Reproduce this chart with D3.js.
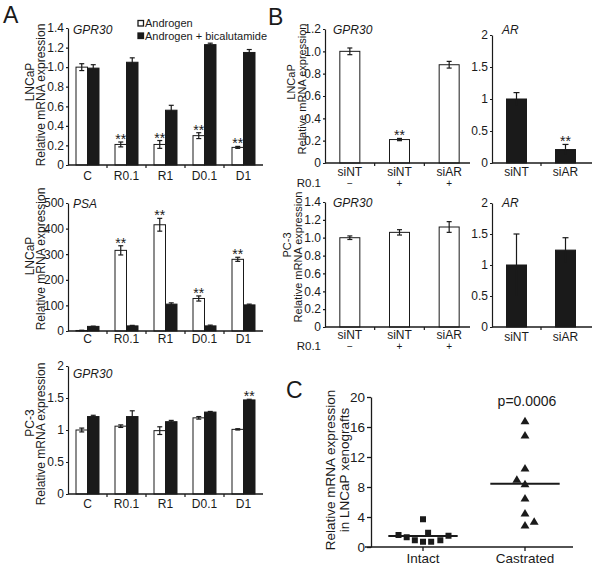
<!DOCTYPE html>
<html><head><meta charset="utf-8">
<script src="https://cdn.jsdelivr.net/npm/d3@7"></script>
<style>body{margin:0;background:#fff}svg{display:block;font-family:"Liberation Sans",Arial,sans-serif;}</style>
</head><body><svg id="c" width="600" height="571"></svg>
<script>
// ---------- data ----------
const catsA = ["C","R0.1","R1","D0.1","D1"];
const seriesNames = ["Androgen","Androgen + bicalutamide"];
const lncapGprAndrogen = [1.00,0.21,0.21,0.30,0.18];
const lncapGprAndrogenErr = [0.035,0.025,0.04,0.03,0.01];
const lncapGprBical = [0.99,1.05,0.56,1.23,1.15];
const lncapGprBicalErr = [0.035,0.045,0.05,0.015,0.03];
const lncapGprStars = [0,1,1,1,1];
const psaAndrogen = [2,315,415,127,280];
const psaAndrogenErr = [1,18,25,10,8];
const psaBical = [18,20,105,20,102];
const psaBicalErr = [1,2,5,3,3];
const psaStars = [0,1,1,1,1];
const pc3GprAndrogen = [1.00,1.06,0.99,1.19,1.01];
const pc3GprAndrogenErr = [0.03,0.02,0.06,0.02,0.01];
const pc3GprBical = [1.21,1.21,1.13,1.28,1.47];
const pc3GprBicalErr = [0.02,0.09,0.02,0.01,0.01];
const pc3GprBicalStars = [0,0,0,0,1];
const ticksA1 = [0,0.2,0.4,0.6,0.8,1.0,1.2,1.4];
const ticksA2 = [0,100,200,300,400,500];
const ticksA3 = [0,0.5,1,1.5,2];

const catsB = ["siNT","siNT","siAR"];
const r01Signs = ["\u2212","+","+"];
const catsAR = ["siNT","siAR"];
const lncapGprSi = [1.00,0.21,0.88];
const lncapGprSiErr = [0.03,0.01,0.03];
const lncapGprSiStars = [0,1,0];
const lncapARSi = [1.00,0.21];
const lncapARSiErr = [0.10,0.08];
const lncapARSiStars = [0,1];
const pc3GprSi = [1.00,1.06,1.12];
const pc3GprSiErr = [0.02,0.03,0.06];
const pc3ARSi = [1.00,1.24];
const pc3ARSiErr = [0.50,0.20];
const ticksB1 = [0,0.2,0.4,0.6,0.8,1.0,1.2];
const ticksB3 = [0,0.2,0.4,0.6,0.8,1.0,1.2,1.4];
const ticksAR = [0,0.5,1,1.5,2];

const groupsC = ["Intact","Castrated"];
const intactVals = [3.7,1.6,1.3,0.9,0.7,1.9,0.7,0.9,1.5];
const intactJitter = [0,-0.24,-0.16,-0.08,0,0.05,0.08,0.17,0.25];
const castratedVals = [16.7,14.8,10.4,8.9,8.3,6.4,4.4,2.8,3.3];
const castratedJitter = [0,0,0,-0.08,0,0,0,0,0.09];
const ticksC = [0,4,8,12,16,20];
const pText = "p=0.0006";

// ---------- drawing ----------
const svg = d3.select("#c");
const INK = "#1a1a1a";
const fmt1 = d => d === 0 ? "0" : d3.format(".1f")(d);
const fmtG = d => String(d);

function barPanel(o){
  const g = svg.append("g");
  const n = o.cats.length;
  const x = d3.scaleBand().domain(d3.range(n)).range([o.xl, o.xr]);
  const y = d3.scaleLinear().domain([0, o.max]).range([o.y0, o.yt]);
  o.series.forEach((s, si) => {
    const off = o.series.length === 2 ? (si === 0 ? -o.bw : 0) : -o.bw/2;
    const cx = i => x(i) + x.bandwidth()/2 + off;
    const rows = s.vals.map((v,i) => ({v, i, e: s.errs[i], star: s.stars ? s.stars[i] : 0}));
    g.selectAll(null).data(rows).join("rect")
      .attr("x", d => cx(d.i)).attr("width", o.bw)
      .attr("y", d => y(d.v)).attr("height", d => y(0) - y(d.v))
      .attr("fill", s.fill).attr("stroke", INK).attr("stroke-width", 1);
    const eb = g.selectAll(null).data(rows).join("g")
      .attr("transform", d => `translate(${cx(d.i) + o.bw/2},0)`);
    eb.append("line").attr("x1",0).attr("x2",0)
      .attr("y1",d=>y(d.v - d.e)).attr("y2",d=>y(d.v + d.e))
      .attr("stroke", INK).attr("stroke-width",1.2);
    eb.append("line").attr("x1",-o.cap).attr("x2",o.cap)
      .attr("y1",d=>y(d.v + d.e)).attr("y2",d=>y(d.v + d.e))
      .attr("stroke", INK).attr("stroke-width",1.2);
    eb.append("line").attr("x1",-o.cap).attr("x2",o.cap)
      .attr("y1",d=>y(d.v - d.e)).attr("y2",d=>y(d.v - d.e))
      .attr("stroke", s.fill === "#fff" ? INK : "none").attr("stroke-width",1.2);
    g.selectAll(null).data(rows.filter(d => d.star)).join("text")
      .attr("x",d=>cx(d.i) + o.bw/2).attr("y",d=>y(d.v + d.e) + 2)
      .attr("text-anchor","middle").attr("font-size",14).attr("fill",INK)
      .text("**");
  });
  // y axis
  const ya = g.append("g").attr("transform",`translate(${o.xl},0)`)
    .call(d3.axisLeft(y).tickValues(o.ticks).tickFormat(o.fmt).tickSize(2).tickPadding(2).tickSizeOuter(0));
  ya.select(".domain").attr("stroke",INK).attr("stroke-width",1.2);
  ya.selectAll(".tick line").attr("stroke",INK).attr("stroke-width",1.2);
  ya.selectAll("text").attr("font-size",o.fs||12).attr("fill",INK).attr("font-family",'"Liberation Sans",Arial,sans-serif');
  // x axis
  g.append("line").attr("x1",o.xl).attr("x2",o.xend).attr("y1",o.y0).attr("y2",o.y0)
    .attr("stroke",INK).attr("stroke-width",1.5);
  g.selectAll(null).data(d3.range(1,n)).join("line")
    .attr("x1",i=>x(i)).attr("x2",i=>x(i)).attr("y1",o.y0).attr("y2",o.y0+3)
    .attr("stroke",INK).attr("stroke-width",1.2);
  g.selectAll(null).data(o.cats).join("text")
    .attr("x",(d,i)=>x(i)+x.bandwidth()/2).attr("y",o.labY)
    .attr("text-anchor","middle").attr("font-size",o.fs||12).attr("fill",INK).text(d=>d);
  if (o.signs) {
    g.selectAll(null).data(o.signs).join("text")
      .attr("x",(d,i)=>x(i)+x.bandwidth()/2).attr("y",o.labY+11)
      .attr("text-anchor","middle").attr("font-size",10).attr("fill",INK).text(d=>d);
    g.append("text").attr("x",o.xl-4).attr("y",o.labY+11).attr("text-anchor","end")
      .attr("font-size",11.5).attr("fill",INK).text("R0.1");
  }
  // gene label
  g.append("text").attr("x",o.gx).attr("y",o.gy).attr("font-size",12).attr("font-style","italic")
    .attr("fill",INK).text(o.gene);
  // y labels
  if (o.yl) o.yl.forEach(t => {
    g.append("text").attr("transform",`translate(${t[1]},${t[2]}) rotate(-90)`)
      .attr("text-anchor","middle").attr("dominant-baseline","central")
      .attr("font-size",t[3]||12).attr("fill",INK).text(t[0]);
  });
  return {x,y};
}

barPanel({cats:catsA, xl:68, xr:263, xend:263, y0:165, yt:28, max:1.4, ticks:ticksA1, fmt:fmt1,
  bw:11.5, cap:2.5, labY:180, gene:"GPR30", gx:73, gy:34,
  series:[{vals:lncapGprAndrogen, errs:lncapGprAndrogenErr, fill:"#fff", stars:lncapGprStars},
          {vals:lncapGprBical, errs:lncapGprBicalErr, fill:INK}],
  yl:[["LNCaP",30,82],["Relative mRNA expression",41,95]]});
barPanel({cats:catsA, xl:68, xr:263, xend:263, y0:331, yt:203, max:500, ticks:ticksA2, fmt:fmtG,
  bw:11.5, cap:2.5, labY:343, gene:"PSA", gx:73, gy:208,
  series:[{vals:psaAndrogen, errs:psaAndrogenErr, fill:"#fff", stars:psaStars},
          {vals:psaBical, errs:psaBicalErr, fill:INK}],
  yl:[["LNCaP",30,256],["Relative mRNA expression",41,259]]});
barPanel({cats:catsA, xl:68, xr:263, xend:263, y0:494, yt:366, max:2, ticks:ticksA3, fmt:fmtG,
  bw:11.5, cap:2.5, labY:508, gene:"GPR30", gx:73, gy:378,
  series:[{vals:pc3GprAndrogen, errs:pc3GprAndrogenErr, fill:"#fff"},
          {vals:pc3GprBical, errs:pc3GprBicalErr, fill:INK, stars:pc3GprBicalStars}],
  yl:[["PC-3",30,423],["Relative mRNA expression",41,434]]});

barPanel({cats:catsB, signs:r01Signs, xl:325, xr:474, xend:470, y0:163, yt:29, max:1.2, ticks:ticksB1, fmt:fmt1,
  bw:20, cap:2.5, labY:176, gene:"GPR30", gx:333, gy:34,
  series:[{vals:lncapGprSi, errs:lncapGprSiErr, fill:"#fff", stars:lncapGprSiStars}],
  yl:[["LNCaP",291,82,11],["Relative mRNA expression",302,89,11]]});
barPanel({cats:catsAR, xl:492, xr:590, xend:592, y0:163, yt:35, max:2, ticks:ticksAR, fmt:fmtG,
  bw:20, cap:3, labY:176, gene:"AR", gx:502, gy:34,
  series:[{vals:lncapARSi, errs:lncapARSiErr, fill:INK, stars:lncapARSiStars}]});
barPanel({cats:catsB, signs:r01Signs, xl:325, xr:474, xend:470, y0:327, yt:202, max:1.4, ticks:ticksB3, fmt:fmt1,
  bw:20, cap:2.5, labY:339, gene:"GPR30", gx:333, gy:207,
  series:[{vals:pc3GprSi, errs:pc3GprSiErr, fill:"#fff"}],
  yl:[["PC-3",287,245,11],["Relative mRNA expression",298,257,11]]});
barPanel({cats:catsAR, xl:492, xr:590, xend:592, y0:327, yt:203, max:2, ticks:ticksAR, fmt:fmtG,
  bw:20, cap:3, labY:341, gene:"AR", gx:502, gy:207,
  series:[{vals:pc3ARSi, errs:pc3ARSiErr, fill:INK}]});

// legend
const lg = svg.append("g");
seriesNames.forEach((nm,i) => {
  lg.append("rect").attr("x",138).attr("y",20.5+i*12.5).attr("width",5.5).attr("height",5.5)
    .attr("fill", i===0 ? "#fff" : INK).attr("stroke",INK).attr("stroke-width",1.3);
  lg.append("text").attr("x",145).attr("y",27+i*12.5).attr("font-size",11).attr("fill",INK).text(nm);
});

// panel C
(function(){
  const g = svg.append("g");
  const x = d3.scalePoint().domain(groupsC).range([372,576]).padding(0.5);
  const y = d3.scaleLinear().domain([0,20]).range([547,397]);
  const step = x.step();
  const ya = g.append("g").attr("transform","translate(371,0)")
    .call(d3.axisLeft(y).tickValues(ticksC).tickSize(4).tickPadding(2).tickSizeOuter(0));
  ya.select(".domain").attr("stroke",INK).attr("stroke-width",1.3);
  ya.selectAll(".tick line").attr("stroke",INK).attr("stroke-width",1.3);
  ya.selectAll("text").attr("font-size",13.5).attr("fill",INK).attr("font-family",'"Liberation Sans",Arial,sans-serif');
  g.append("line").attr("x1",365).attr("x2",573).attr("y1",547).attr("y2",547).attr("stroke",INK).attr("stroke-width",1.3);
  g.selectAll(null).data(groupsC).join("line")
    .attr("x1",d=>x(d)).attr("x2",d=>x(d)).attr("y1",547).attr("y2",551).attr("stroke",INK).attr("stroke-width",1.3);
  g.selectAll(null).data(groupsC).join("text")
    .attr("x",d=>x(d)).attr("y",563).attr("text-anchor","middle").attr("font-size",13.5).attr("fill",INK).text(d=>d);
  // points
  g.selectAll(null).data(intactVals).join("rect")
    .attr("x",(d,i)=>x("Intact")+intactJitter[i]*step-3).attr("y",d=>y(d)-3)
    .attr("width",6).attr("height",6).attr("fill",INK);
  const tri = d3.symbol().type(d3.symbolTriangle).size(34);
  g.selectAll(null).data(castratedVals).join("path")
    .attr("transform",(d,i)=>`translate(${x("Castrated")+castratedJitter[i]*step},${y(d)})`)
    .attr("d",tri).attr("fill",INK);
  // means
  [[intactVals,"Intact"],[castratedVals,"Castrated"]].forEach(([v,k]) => {
    const m = d3.mean(v);
    g.append("line").attr("x1",x(k)-0.34*step).attr("x2",x(k)+0.34*step)
      .attr("y1",y(m)).attr("y2",y(m)).attr("stroke",INK).attr("stroke-width",2);
  });
  g.append("text").attr("x",x("Castrated")+2).attr("y",406).attr("text-anchor","middle")
    .attr("font-size",14).attr("fill",INK).text(pText);
  g.append("text").attr("transform","translate(330,470) rotate(-90)").attr("text-anchor","middle")
    .attr("dominant-baseline","central").attr("font-size",13.5).attr("fill",INK).text("Relative mRNA expression");
  g.append("text").attr("transform","translate(344,470) rotate(-90)").attr("text-anchor","middle")
    .attr("dominant-baseline","central").attr("font-size",13.5).attr("fill",INK).text("in LNCaP xenografts");
})();

// panel letters
[["A",3,23],["B",268,25],["C",286,398]].forEach(([t,x,y]) => {
  svg.append("text").attr("x",x).attr("y",y).attr("font-size",23).attr("fill",INK).text(t);
});
</script></body></html>
